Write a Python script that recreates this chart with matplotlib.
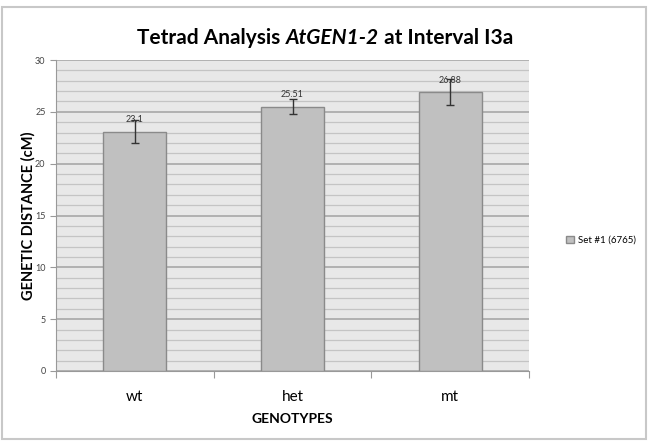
import matplotlib.pyplot as plt
from matplotlib.patches import Rectangle
from matplotlib.ticker import MultipleLocator

genotypes = ['wt', 'het', 'mt']
distance = [23.1, 25.51, 26.88]
errors = [1.15, 0.7, 1.25]
labels = ['23.1', '25.51', '26.88']

plt.rcParams['font.family'] = ['Lato', 'DejaVu Sans']

fig = plt.figure(figsize=(6.48, 4.47), dpi=100)
ax = fig.add_axes([56 / 648, 1 - 371 / 447, (529 - 56) / 648, (371 - 60) / 447])

# moldura do grafico
fig.patches.append(Rectangle((2 / 648, 8 / 447), 644 / 648, 432 / 447, transform=fig.transFigure,
                             fill=False, edgecolor='#c8c8c8', linewidth=1.5))

ax.set_facecolor('#e8e8e8')
x = [0.5, 1.5, 2.5]
ax.bar(x, distance, width=0.4, color='#c0c0c0', edgecolor='#8a8a8a', linewidth=1,
       yerr=errors, capsize=3, error_kw=dict(ecolor='#333333', elinewidth=1, capthick=1),
       label='Set #1 (6765)', zorder=3)

for xi, v, t in zip(x, distance, labels):
    ax.text(xi, v + 0.75, t, ha='center', va='bottom', fontsize=6.5, color='#333333', zorder=4)

ax.set_xlim(0, 3)
ax.set_ylim(0, 30)
ax.yaxis.set_major_locator(MultipleLocator(5))
ax.yaxis.set_minor_locator(MultipleLocator(1))
ax.grid(which='major', axis='y', color='#a8a8a8', linewidth=1.2, zorder=0)
ax.grid(which='minor', axis='y', color='#c4c4c4', linewidth=0.9, zorder=0)
ax.set_xticks([0, 1, 2, 3])
ax.set_xticklabels([])
ax.set_xticks(x, minor=True)
ax.set_xticklabels(genotypes, minor=True, fontsize=11)
ax.tick_params(axis='x', which='major', length=5, color='#999999')
ax.tick_params(axis='x', which='minor', length=0, pad=14)
ax.tick_params(axis='y', which='major', length=4, color='#999999', labelsize=6.5, labelcolor='#444444')
ax.tick_params(axis='y', which='minor', length=0)
for s in ['top', 'right']:
    ax.spines[s].set_visible(False)
ax.spines['left'].set_color('#999999')
ax.spines['bottom'].set_color('#999999')

ax.set_xlabel('GENOTYPES', fontsize=10, fontweight='bold', labelpad=6)
ax.set_ylabel('GENETIC DISTANCE (cM)', fontsize=10.5, fontweight='bold', labelpad=0)

# titulo em partes (parte do meio em italico)
partes = [('Tetrad Analysis ', 'normal'), ('AtGEN1-2', 'italic'), (' at Interval I3a', 'normal')]
renderer = fig.canvas.get_renderer()
textos = []
for p, estilo in partes:
    t = fig.text(0, 1 - 38 / 447, p, ha='left', va='center', fontsize=15, fontweight='bold', style=estilo)
    textos.append(t)
larguras = [t.get_window_extent(renderer).width for t in textos]
x0 = 325 - sum(larguras) / 2
for t, w in zip(textos, larguras):
    t.set_x(x0 / 648)
    x0 += w

ax.legend(loc='center left', bbox_to_anchor=(1.06, 0.42), frameon=False, fontsize=7,
          handlelength=0.8, handleheight=0.8, handletextpad=0.4)

fig.savefig('out.png', dpi=100)
